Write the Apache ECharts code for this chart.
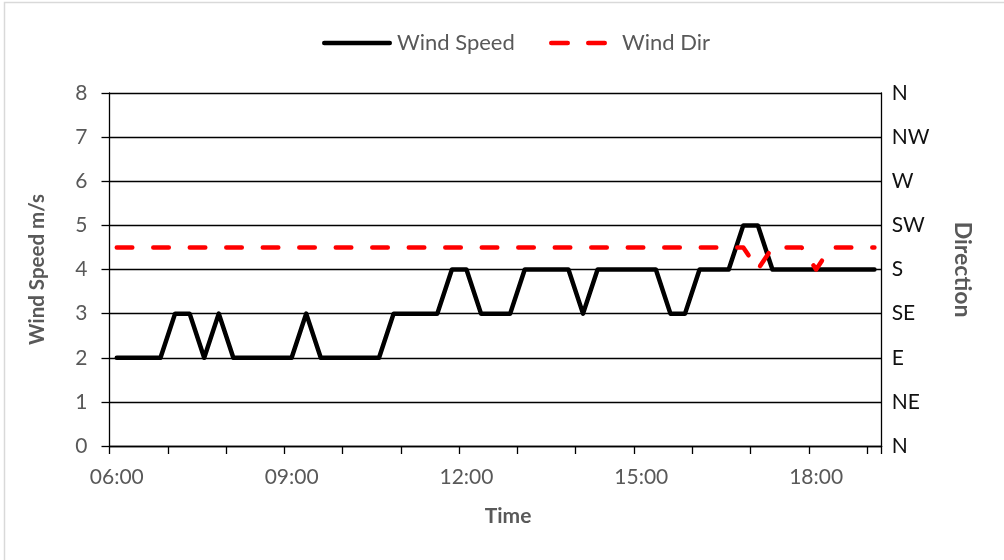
<!DOCTYPE html>
<html>
<head>
<meta charset="utf-8">
<script src="https://cdn.jsdelivr.net/npm/echarts@6/dist/echarts.min.js"></script>
<style>
html,body{margin:0;padding:0;background:#fff;}
#chart{width:1004px;height:560px;}
</style>
</head>
<body>
<div id="chart"></div>
<script>
// 15-minute categories 06:00 .. 19:00
const times = [
  "06:00","06:15","06:30","06:45","07:00","07:15","07:30","07:45",
  "08:00","08:15","08:30","08:45","09:00","09:15","09:30","09:45",
  "10:00","10:15","10:30","10:45","11:00","11:15","11:30","11:45",
  "12:00","12:15","12:30","12:45","13:00","13:15","13:30","13:45",
  "14:00","14:15","14:30","14:45","15:00","15:15","15:30","15:45",
  "16:00","16:15","16:30","16:45","17:00","17:15","17:30","17:45",
  "18:00","18:15","18:30","18:45","19:00"
];
// wind speed, m/s
const windSpeed = [
  2,2,2,2,3,3,2,3,
  2,2,2,2,2,3,2,2,
  2,2,2,3,3,3,3,4,
  4,3,3,3,4,4,4,4,
  3,4,4,4,4,4,3,3,
  4,4,4,5,5,4,4,4,
  4,4,4,4,4
];
// wind direction, degrees
const windDir = [
  202.5,202.5,202.5,202.5,202.5,202.5,202.5,202.5,
  202.5,202.5,202.5,202.5,202.5,202.5,202.5,202.5,
  202.5,202.5,202.5,202.5,202.5,202.5,202.5,202.5,
  202.5,202.5,202.5,202.5,202.5,202.5,202.5,202.5,
  202.5,202.5,202.5,202.5,202.5,202.5,202.5,202.5,
  202.5,202.5,202.5,202.5,180,202.5,202.5,202.5,
  180,202.5,202.5,202.5,202.5
];
const dirLabels = ["N","NE","E","SE","S","SW","W","NW","N"];

const FONT = "Lato";
const solidIcon = 'path://M2.25,0H67.75A2.25,2.25,0,0,1,67.75,4.5H2.25A2.25,2.25,0,0,1,2.25,0Z';
const dashIcon = 'path://M2.25,0H18.75A2.25,2.25,0,0,1,18.75,4.5H2.25A2.25,2.25,0,0,1,2.25,0Z' +
                 'M39.25,0H55.75A2.25,2.25,0,0,1,55.75,4.5H39.25A2.25,2.25,0,0,1,39.25,0Z';

const chart = echarts.init(document.getElementById('chart'), null, {renderer:'canvas'});
chart.setOption({
  animation: false,
  backgroundColor: '#ffffff',
  textStyle: {fontFamily: FONT},
  graphic: [{
    type: 'rect', silent: true,
    shape: {x: 4.5, y: 2.5, width: 1020, height: 600},
    style: {fill: 'none', stroke: '#d9d9d9', lineWidth: 1.5}
  }],
  legend: [{
    left: 317, top: 27, itemWidth: 70, itemHeight: 4.5,
    data: [{name: 'Wind Speed', icon: solidIcon}],
    itemStyle: {color: '#000'},
    textStyle: {fontFamily: FONT, fontSize: 22, color: '#595959'}
  },{
    left: 544, top: 27, itemWidth: 58, itemHeight: 4.5,
    data: [{name: 'Wind Dir', icon: dashIcon}],
    itemStyle: {color: '#ff0000'},
    textStyle: {fontFamily: FONT, fontSize: 22, color: '#595959', padding: [0,0,0,10]}
  }],
  grid: {left: 109.5, right: 122.3, top: 93, bottom: 114, containLabel: false},
  xAxis: {
    type: 'category', data: times, boundaryGap: true,
    name: 'Time', nameLocation: 'middle', nameGap: 60,
    nameTextStyle: {fontFamily: FONT, fontSize: 21, fontWeight: 'bold', color: '#595959', padding: [0,0,0,25]},
    axisLine: {lineStyle: {color: '#000', width: 1.3}},
    axisTick: {show: true, interval: 3, length: 8, lineStyle: {color: '#000', width: 1.3}},
    axisLabel: {interval: 11, margin: 21, fontFamily: FONT, fontSize: 21, color: '#595959'},
    splitLine: {show: false}
  },
  yAxis: [{
    type: 'value', min: 0, max: 8, interval: 1, position: 'left',
    name: 'Wind Speed m/s', nameLocation: 'middle', nameGap: 62, nameRotate: 90,
    nameTextStyle: {fontFamily: FONT, fontSize: 20.5, fontWeight: 'bold', color: '#595959'},
    axisLine: {show: true, lineStyle: {color: '#000', width: 1.3}},
    axisTick: {show: true, length: 8, lineStyle: {color: '#000', width: 1.3}},
    axisLabel: {margin: 22, fontFamily: FONT, fontSize: 21, color: '#595959'},
    splitLine: {show: true, lineStyle: {color: '#000', width: 1.3}}
  },{
    type: 'value', min: 0, max: 360, interval: 45, position: 'right',
    name: 'Direction', nameLocation: 'middle', nameGap: 69, nameRotate: -90,
    nameTextStyle: {fontFamily: FONT, fontSize: 23, fontWeight: 'bold', color: '#595959'},
    axisLine: {show: true, lineStyle: {color: '#000', width: 1.3}},
    axisTick: {show: false},
    axisLabel: {margin: 10, fontFamily: FONT, fontSize: 21, color: '#111',
      formatter: function (v) { return dirLabels[Math.round(v / 45)]; }},
    splitLine: {show: false}
  }],
  series: [{
    name: 'Wind Speed', type: 'line', yAxisIndex: 0, data: windSpeed,
    symbol: 'none', smooth: false,
    lineStyle: {color: '#000', width: 4.5, cap: 'round', join: 'round'},
    itemStyle: {color: '#000'}
  },{
    name: 'Wind Dir', type: 'line', yAxisIndex: 1, data: windDir,
    symbol: 'none', smooth: false,
    lineStyle: {color: '#ff0000', width: 4.5, type: [15.5, 21], cap: 'round', join: 'round'},
    itemStyle: {color: '#ff0000'}
  }]
});
</script>
</body>
</html>
